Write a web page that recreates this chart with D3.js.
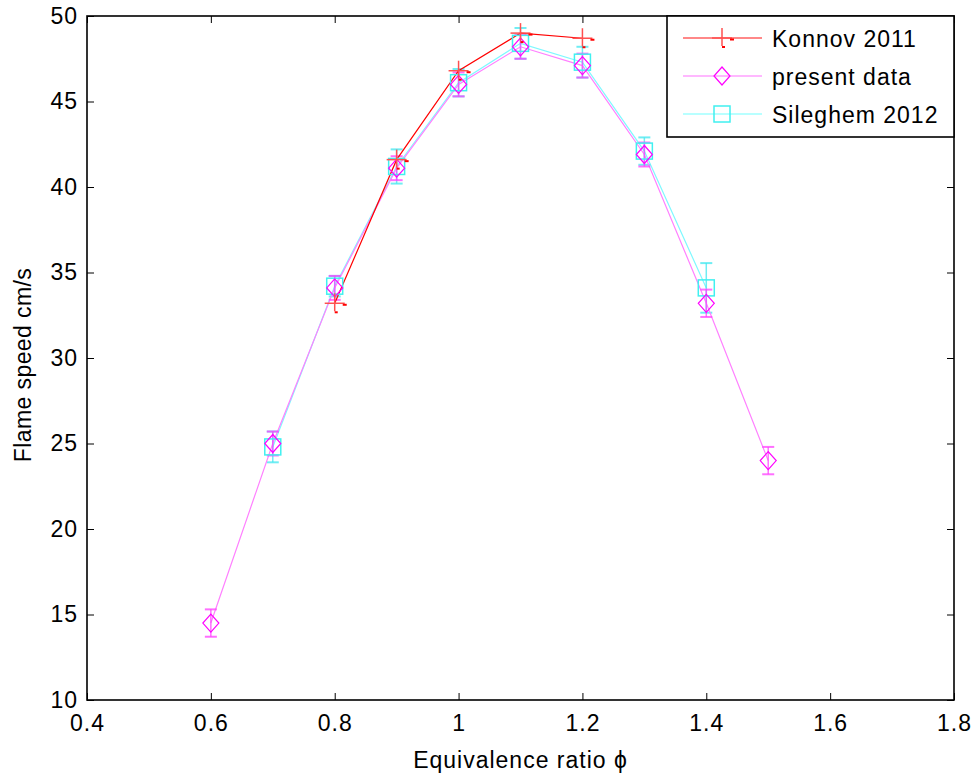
<!DOCTYPE html>
<html><head><meta charset="utf-8">
<script src="https://cdn.jsdelivr.net/npm/d3@7"></script>
<style>body{margin:0;background:#fff}svg{display:block}text{font-family:"Liberation Sans",Arial,sans-serif;fill:#000}</style>
</head><body>
<svg id="c" width="978" height="776"></svg>
<script>
const xTicks = [0.4,0.6,0.8,1.0,1.2,1.4,1.6,1.8];
const xTickLabels = ["0.4","0.6","0.8","1","1.2","1.4","1.6","1.8"];
const yTicks = [10,15,20,25,30,35,40,45,50];

const konnovPhi = [0.8,0.9,1.0,1.1,1.2];
const konnovSpeed = [33.2,41.6,46.8,49.0,48.7];

const presentPhi = [0.6,0.7,0.8,0.9,1.0,1.1,1.2,1.3,1.4,1.5];
const presentSpeed = [14.5,25.0,34.1,41.1,46.0,48.2,47.1,41.9,33.2,24.0];
const presentErr = [0.8,0.7,0.7,0.7,0.7,0.7,0.7,0.7,0.8,0.8];

const sileghemPhi = [0.7,0.8,0.9,1.0,1.1,1.2,1.3,1.4];
const sileghemSpeed = [24.8,34.2,41.2,46.1,48.4,47.3,42.1,34.1];
const sileghemErr = [0.9,0.6,1.0,0.8,0.9,0.9,0.8,1.45];

const svg = d3.select("#c");
const L=87, R=954, T=16, B=700;
const x = d3.scaleLinear().domain([0.4,1.8]).range([L,R]);
const y = d3.scaleLinear().domain([10,50]).range([B,T]);
const tl = 7;
const FS = 23, LS = "1px";

const gx = svg.append("g").attr("transform",`translate(0,${B})`)
  .call(d3.axisBottom(x).tickValues(xTicks).tickFormat((d,i)=>xTickLabels[i]).tickSizeInner(-tl).tickSizeOuter(0).tickPadding(15));
const gy = svg.append("g").attr("transform",`translate(${L},0)`)
  .call(d3.axisLeft(y).tickValues(yTicks).tickSizeInner(-tl).tickSizeOuter(0).tickPadding(9));
const gx2 = svg.append("g").attr("transform",`translate(0,${T})`)
  .call(d3.axisTop(x).tickValues(xTicks).tickFormat("").tickSizeInner(-tl).tickSizeOuter(0));
const gy2 = svg.append("g").attr("transform",`translate(${R},0)`)
  .call(d3.axisRight(y).tickValues(yTicks).tickFormat("").tickSizeInner(-tl).tickSizeOuter(0));
[gx,gy,gx2,gy2].forEach(g=>{
  g.select(".domain").remove();
  g.selectAll(".tick line").attr("stroke","#000").attr("stroke-width",1);
  g.selectAll("text").attr("font-size",FS).style("letter-spacing",LS).style("font-family",'"Liberation Sans",Arial,sans-serif').attr("fill","#000");
});
svg.append("rect").attr("x",L).attr("y",T).attr("width",R-L).attr("height",B-T)
  .attr("fill","none").attr("stroke","#000").attr("stroke-width",1.6);

const plot = svg.append("g");
const line = d3.line().x(d=>x(d[0])).y(d=>y(d[1]));

function errBars(phi, v, e, color, cap){
  phi.forEach((p,i)=>{
    const cx=x(p), y1=y(v[i]+e[i]), y2=y(v[i]-e[i]);
    plot.append("line").attr("x1",cx).attr("x2",cx).attr("y1",y1).attr("y2",y2).attr("stroke",color).attr("stroke-width",1.5).attr("opacity",0.75);
    [y1,y2].forEach(yy=>plot.append("line").attr("x1",cx-cap).attr("x2",cx+cap).attr("y1",yy).attr("y2",yy).attr("stroke",color).attr("stroke-width",2).attr("opacity",0.75));
  });
}

const silData = sileghemPhi.map((p,i)=>[p,sileghemSpeed[i]]);
plot.append("path").attr("d",line(silData)).attr("fill","none").attr("stroke","#7ff8ff").attr("stroke-width",1.2);
errBars(sileghemPhi,sileghemSpeed,sileghemErr,"#40e8f0",6);
const preData = presentPhi.map((p,i)=>[p,presentSpeed[i]]);
plot.append("path").attr("d",line(preData)).attr("fill","none").attr("stroke","#ff80ff").attr("stroke-width",1.2);
errBars(presentPhi,presentSpeed,presentErr,"#ff40ff",6);
const konData = konnovPhi.map((p,i)=>[p,konnovSpeed[i]]);
plot.append("path").attr("d",line(konData)).attr("fill","none").attr("stroke","#ff0000").attr("stroke-width",1.2);

function plusMarker(g,cx,cy){
  g.append("line").attr("x1",cx-10).attr("x2",cx+10).attr("y1",cy).attr("y2",cy).attr("stroke","#ff5050").attr("stroke-width",1.5);
  g.append("line").attr("x1",cx).attr("x2",cx).attr("y1",cy-10).attr("y2",cy+8).attr("stroke","#ff5050").attr("stroke-width",1.5);
  g.append("rect").attr("x",cx+8).attr("y",cy+0.5).attr("width",4).attr("height",2).attr("fill","#ff0000");
  g.append("rect").attr("x",cx).attr("y",cy+8).attr("width",3).attr("height",2).attr("fill","#ff0000");
}
function diamondMarker(g,cx,cy){
  g.append("path").attr("d",`M${cx},${cy-9}L${cx+8},${cy}L${cx},${cy+9}L${cx-8},${cy}Z`).attr("fill","none").attr("stroke","#ff00ff").attr("stroke-width",1.2);
}
function squareMarker(g,cx,cy){
  g.append("rect").attr("x",cx-8).attr("y",cy-8).attr("width",16).attr("height",16).attr("fill","none").attr("stroke","#40f0f0").attr("stroke-width",1.5);
}
sileghemPhi.forEach((p,i)=>squareMarker(plot,x(p),y(sileghemSpeed[i])));
presentPhi.forEach((p,i)=>diamondMarker(plot,x(p),y(presentSpeed[i])));
konnovPhi.forEach((p,i)=>plusMarker(plot,x(p),y(konnovSpeed[i])));

const lg = svg.append("g");
lg.append("rect").attr("x",667).attr("y",T).attr("width",R-667).attr("height",121).attr("fill","#fff").attr("stroke","#000").attr("stroke-width",1.6);
const legendNames = ["Konnov 2011","present data","Sileghem 2012"];
const legendColors = ["#ff6060","#ffa0ff","#a0ffff"];
const legendYs = [38,76,114];
legendNames.forEach((n,i)=>{
  const ly=legendYs[i];
  lg.append("line").attr("x1",683).attr("x2",762).attr("y1",ly).attr("y2",ly).attr("stroke",legendColors[i]).attr("stroke-width",1.5);
  if(i===0) plusMarker(lg,722,ly); else if(i===1) diamondMarker(lg,722,ly); else squareMarker(lg,722,ly);
  lg.append("text").attr("x",772).attr("y",ly+9).attr("font-size",FS).style("letter-spacing",LS).text(n);
});

svg.append("text").attr("x",(L+R)/2).attr("y",768).attr("text-anchor","middle").attr("font-size",FS).style("letter-spacing",LS).text("Equivalence ratio ϕ");
svg.append("text").attr("transform",`translate(31,${(T+B)/2+7}) rotate(-90)`).attr("text-anchor","middle").attr("font-size",FS).style("letter-spacing","0.4px").text("Flame speed cm/s");
</script>
</body></html>
